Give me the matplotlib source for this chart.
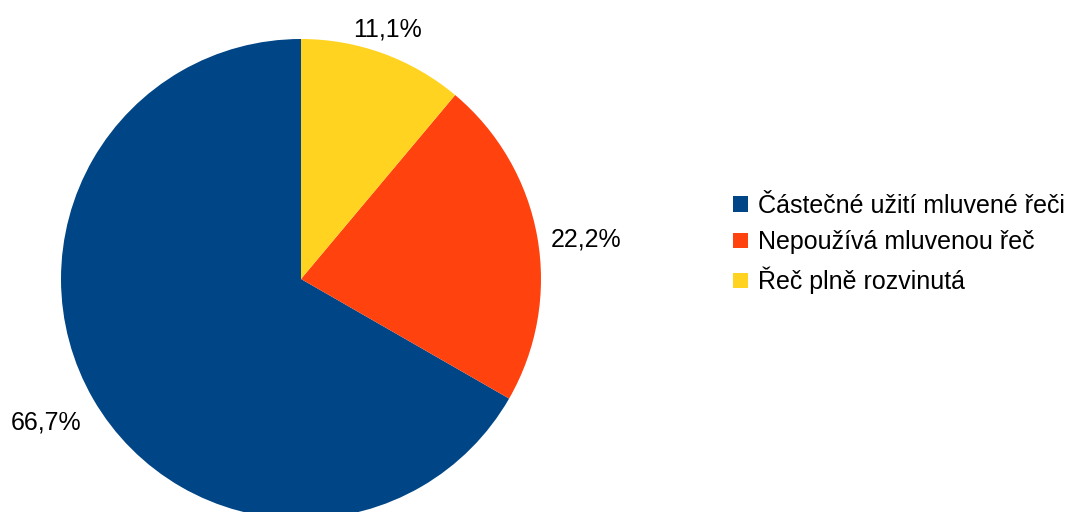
import numpy as np
import matplotlib as mpl
import matplotlib.pyplot as plt
from matplotlib.patches import Patch

plt.rcParams['font.family'] = ['Liberation Sans', 'DejaVu Sans']

kategorie = ['Částečné užití mluvené řeči', 'Nepoužívá mluvenou řeč', 'Řeč plně rozvinutá']
podil = [66.7, 22.2, 11.1]
popisky = ['66,7%', '22,2%', '11,1%']
barvy = ['#004586', '#ff420e', '#ffd320']

fig = plt.figure(figsize=(10.77, 5.12), dpi=100)
# pie axes: centre (301, 279) px, radius 240 px
ax = fig.add_axes([61/1077, -7/512, 480/1077, 480/512])

wedges, _ = ax.pie(podil, colors=barvy, startangle=90, counterclock=True,
                   wedgeprops=dict(linewidth=0))
ax.set_xlim(-1, 1)
ax.set_ylim(-1, 1)
ax.set_aspect('equal')

for w, txt in zip(wedges, popisky):
    a = np.deg2rad((w.theta1 + w.theta2) / 2)
    c, s = np.cos(a), np.sin(a)
    if abs(c) < 0.5:
        ha = 'center'
    else:
        ha = 'left' if c > 0 else 'right'
    if s > 0.5:
        va, dy = 'bottom', 0
    elif s < -0.6:
        va, dy = 'top', 0
    else:
        va, dy = 'center', (-0.07 if s < 0 else -0.02)
    r = 1.055
    ax.text(r*c, r*s + dy, txt, ha=ha, va=va, fontsize=18, clip_on=False)

handles = [Patch(facecolor=b, edgecolor='none') for b in barvy]
fig.legend(handles, kategorie, loc='center left', bbox_to_anchor=(733/1077, 1-244/512),
           frameon=False, fontsize=18, handlelength=0.58, handleheight=0.58,
           handletextpad=0.4, labelspacing=0.5, borderpad=0, borderaxespad=0)

plt.savefig('out.png', dpi=100)
